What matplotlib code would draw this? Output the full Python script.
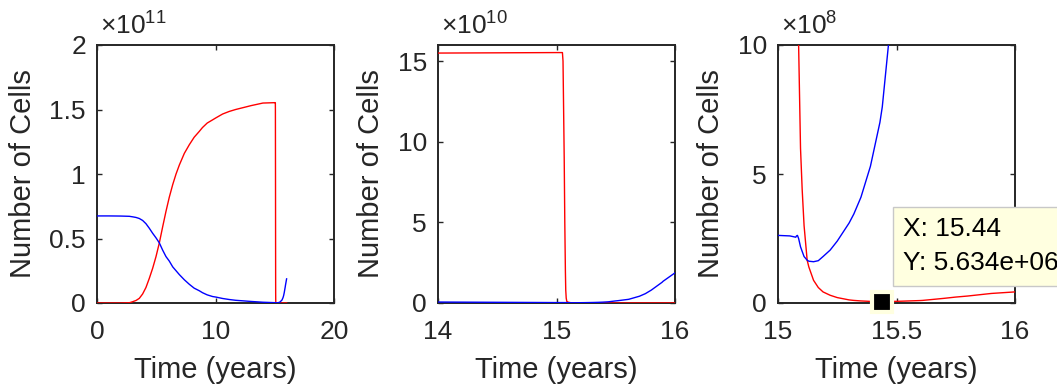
import matplotlib
matplotlib.use('Agg')
import matplotlib.pyplot as plt
import matplotlib.ticker as ticker

plt.rcParams['font.family'] = ['Liberation Sans', 'DejaVu Sans']
plt.rcParams['mathtext.fontset'] = 'custom'
plt.rcParams['mathtext.rm'] = 'Liberation Sans'
plt.rcParams['mathtext.it'] = 'Liberation Sans'

# time (years) and cell counts
t = [0, 1, 2, 2.73, 3.01, 3.3, 3.57, 3.85, 4.13, 4.41, 4.70, 4.98, 5.26, 5.54,
     5.82, 6.1, 6.39, 6.67, 6.95, 7.37, 7.79, 8.2, 8.63, 8.9, 9.3, 9.76, 10.03,
     10.6, 11.16, 11.7, 12.57, 13, 14, 15.0, 15.05,
     15.055, 15.065, 15.07, 15.075, 15.078, 15.082, 15.087, 15.095, 15.102,
     15.11, 15.123, 15.13, 15.15, 15.17, 15.19, 15.22, 15.25, 15.3, 15.32,
     15.35, 15.39, 15.43, 15.44, 15.466, 15.5, 15.52, 15.6, 15.61, 15.7, 15.75,
     15.8, 15.89, 15.9, 16.0]

red = [0, 0, 0, 0.002e11, 0.01e11, 0.02e11, 0.036e11, 0.07e11, 0.12e11,
       0.19e11, 0.27e11, 0.36e11, 0.466e11, 0.59e11, 0.71e11, 0.82e11,
       0.918e11, 1.0e11, 1.07e11, 1.16e11, 1.227e11, 1.285e11, 1.33e11,
       1.36e11, 1.395e11, 1.42e11, 1.435e11, 1.465e11, 1.485e11, 1.50e11,
       1.52e11, 1.53e11, 1.55e11, 1.553e11, 1.553e11, 1.5e11, 9e10, 5e10,
       2e10, 8e9, 3e9, 1.0e9, 6.0e8, 4.4e8, 3.0e8, 1.66e8, 1.4e8, 0.88e8,
       0.6e8, 0.43e8, 0.3e8, 0.21e8, 0.12e8, 0.1e8, 0.08e8, 0.062e8, 0.057e8,
       0.05634e8, 0.058e8, 0.065e8, 0.07e8, 0.095e8, 0.1e8, 0.18e8, 0.23e8,
       0.27e8, 0.36e8, 0.37e8, 0.43e8]

blue = [0.675e11, 0.675e11, 0.674e11, 0.672e11, 0.668e11, 0.663e11, 0.655e11,
        0.64e11, 0.615e11, 0.58e11, 0.54e11, 0.505e11, 0.466e11, 0.41e11,
        0.36e11, 0.325e11, 0.28e11, 0.25e11, 0.22e11, 0.18e11, 0.145e11,
        0.115e11, 0.095e11, 0.08e11, 0.063e11, 0.05e11, 0.046e11, 0.035e11,
        0.027e11, 0.021e11, 0.015e11, 0.012e11, 6e8, 2.62e8, 2.6e8, 2.59e8,
        2.57e8, 2.56e8, 2.55e8, 2.6e8, 2.62e8, 2.5e8, 2.18e8, 2.0e8, 1.8e8,
        1.66e8, 1.62e8, 1.6e8, 1.64e8, 1.8e8, 2.05e8, 2.4e8, 3.1e8, 3.45e8,
        4.1e8, 5.3e8, 7.0e8, 7.6e8, 10e8, 13e8, 14.5e8, 22e8, 23e8, 42e8,
        58e8, 80e8, 128e8, 135e8, 187e8]

tip_x, tip_y = 15.44, 5.634e6

panels = [
    dict(xlim=(0, 20), ylim=(0, 2e11), xticks=[0, 10, 20],
         yticks=[0, 0.5e11, 1e11, 1.5e11, 2e11], exp=11),
    dict(xlim=(14, 16), ylim=(0, 1.6e11), xticks=[14, 15, 16],
         yticks=[0, 5e10, 10e10, 15e10], exp=10),
    dict(xlim=(15, 16), ylim=(0, 1e9), xticks=[15, 15.5, 16],
         yticks=[0, 5e8, 10e8], exp=8),
]
lefts = [97, 438, 778]

W, H = 1057, 387
fig = plt.figure(figsize=(W / 100, H / 100), dpi=100)
dark = '#262626'
fs = 19

for left, p in zip(lefts, panels):
    ax = fig.add_axes([left / W, 1 - 303 / H, 237 / W, 258 / H])
    ax.plot(t, red, color='red', lw=1.0, zorder=3)
    ax.plot(t, blue, color='blue', lw=1.0, zorder=3)
    ax.set_xlim(*p['xlim'])
    ax.set_ylim(*p['ylim'])
    ax.set_xticks(p['xticks'])
    ax.set_yticks(p['yticks'])
    ax.xaxis.set_major_formatter(ticker.FuncFormatter(lambda v, pos: f'{v:g}'))
    ax.yaxis.set_major_formatter(ticker.FuncFormatter(
        lambda v, pos, e=p['exp']: f'{v / 10**e:g}'))
    ax.text(0.012, 1.02, r'$\times10^{%d}$' % p['exp'], transform=ax.transAxes,
            fontsize=fs, color=dark, ha='left', va='bottom')
    ax.tick_params(direction='in', top=True, right=True, length=3.5,
                   width=1.0, labelsize=fs, colors=dark)
    ax.tick_params(axis='x', pad=12)
    ax.tick_params(axis='y', pad=8)
    for s in ax.spines.values():
        s.set_linewidth(1.4)
        s.set_color(dark)
    ax.set_xlabel('Time (years)', fontsize=21, color=dark, labelpad=9)
    ax.set_ylabel('Number of Cells', fontsize=21, color=dark, labelpad=9)
    last = ax

# data tip on the third panel
last.plot([tip_x], [tip_y], 's', color='black', markersize=14,
          markeredgecolor='#FFFFE0', markeredgewidth=3, clip_on=False, zorder=5)
last.text(15.528, 2.2e8, f'X: {tip_x:.2f}\nY: {tip_y:.3e}', fontsize=fs,
          color='black', va='center', ha='left', linespacing=1.5, clip_on=False,
          bbox=dict(boxstyle='square,pad=0.4', fc='#FFFFE0', ec='#C8C8C8', lw=1.0),
          zorder=6)

fig.savefig('out.png', dpi=100)
